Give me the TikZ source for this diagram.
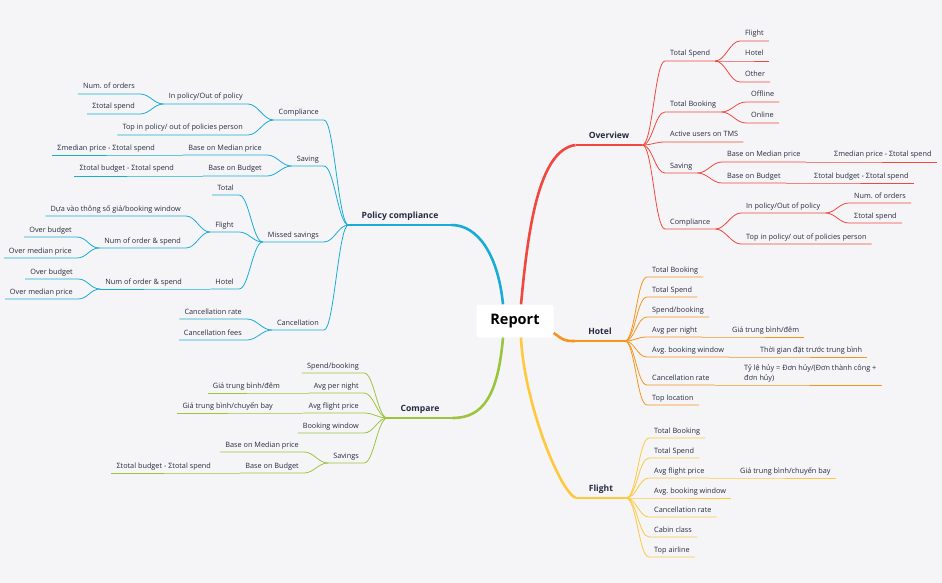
\documentclass[tikz,border=0pt]{standalone}
\usepackage{fontspec}
\setmainfont{Open Sans}
\frenchspacing

\definecolor{bg}{HTML}{F5F5F8}
\definecolor{ink}{HTML}{262A3D}
\definecolor{cRed}{HTML}{F0483E}
\definecolor{cOrange}{HTML}{F7941D}
\definecolor{cYellow}{HTML}{FFC83D}
\definecolor{cGreen}{HTML}{9BC53D}
\definecolor{cBlue}{HTML}{19ACD6}

\tikzset{
  lbl/.style={font=\fontsize{7.3}{8.6}\selectfont, text=ink, inner xsep=5pt, inner ysep=3pt, text height=5.3pt, text depth=1.8pt},
  rlbl/.style={lbl, anchor=south west},
  llbl/.style={lbl, anchor=south east},
  main/.style={font=\fontsize{8.6}{10}\selectfont\bfseries, text=ink, inner xsep=13pt, inner ysep=4pt, text height=6.5pt, text depth=2pt, anchor=south},
  report/.style={fill=white, rounded corners=3pt, minimum width=77pt, minimum height=33pt, font=\fontsize{14.5}{16}\selectfont\bfseries, text=black},
  rb/.style={to path={.. controls +(10,0) and +(-10,0) .. (\tikztotarget)}},
  lb/.style={to path={.. controls +(-10,0) and +(10,0) .. (\tikztotarget)}},
  twig/.style={line width=0.8pt},
  trunk/.style={line width=2.6pt},
  bar/.style={line width=1.4pt}
}

\begin{document}
\begin{tikzpicture}[x=1pt,y=-1pt]
\fill[bg] (0,0) rectangle (942,583);

% Center and main branches
\node[report] (report) at (515,321) {Report};
\node[main] (overview) at (609,145) {Overview};
\node[main] (hotel) at (600,341) {Hotel};
\node[main] (flight) at (601,498) {Flight};
\node[main] (policy) at (400,225) {Policy compliance};
\node[main] (compare) at (420,418) {Compare};

% Trunks
\draw[trunk,cRed] ([xshift=6pt]report.north) .. controls +(7,-75) and +(-37,5) .. (overview.south west);
\draw[trunk,cBlue] ([xshift=-12pt]report.north) .. controls +(-5,-50) and +(26,0) .. (policy.south east);
\draw[trunk,cGreen] ([xshift=-12pt]report.south) .. controls +(-5,57) and +(31,0) .. (compare.south east);
\draw[trunk,cYellow] ([xshift=6pt]report.south) .. controls +(3,63) and +(-17,-8) .. (flight.south west);
\draw[trunk,cOrange] ([yshift=-12pt]report.east) .. controls +(10,7) and +(-12,0) .. (hotel.south west);
\draw[bar,cRed] (overview.south west) -- (overview.south east);
\draw[bar,cBlue] (policy.south west) -- (policy.south east);
\draw[bar,cGreen] (compare.south west) -- (compare.south east);
\draw[bar,cYellow] (flight.south west) -- (flight.south east);
\draw[bar,cOrange] (hotel.south west) -- (hotel.south east);

% Overview
\foreach \n/\y/\t in {ots/61/Total Spend, otb/112/Total Booking, oau/142/Active users on TMS, osv/173/Saving, ocp/229/Compliance} {
  \node[rlbl] (\n) at (665,\y) {\t};
  \draw[twig,cRed] (overview.south east) to[rb] (\n.south west) -- (\n.south east);
}
\foreach \n/\y/\t in {osf/41/Flight, osh/61/Hotel, oso/82/Other} {
  \node[rlbl] (\n) at (740,\y) {\t};
  \draw[twig,cRed] (ots.south east) to[rb] (\n.south west) -- (\n.south east);
}
\foreach \n/\y/\t in {obf/102/Offline, obn/123/Online} {
  \node[rlbl] (\n) at (746,\y) {\t};
  \draw[twig,cRed] (otb.south east) to[rb] (\n.south west) -- (\n.south east);
}
\foreach \n/\y/\t in {osm/162/Base on Median price, osb/183/Base on Budget} {
  \node[rlbl] (\n) at (722,\y) {\t};
  \draw[twig,cRed] (osv.south east) to[rb] (\n.south west) -- (\n.south east);
}
\node[rlbl] (osmx) at (829,162) {Σmedian price - Σtotal spend};
\node[rlbl] (osbx) at (809,183) {Σtotal budget - Σtotal spend};
\draw[twig,cRed] (osm.south east) -- (osmx.south west) -- (osmx.south east);
\draw[twig,cRed] (osb.south east) -- (osbx.south west) -- (osbx.south east);
\foreach \n/\y/\t in {oip/213/{In policy/Out of policy}, otp/244/{Top in policy/ out of policies person}} {
  \node[rlbl] (\n) at (741,\y) {\t};
  \draw[twig,cRed] (ocp.south east) to[rb] (\n.south west) -- (\n.south east);
}
\foreach \n/\y/\t in {oin/203/Num. of orders, oit/223/Σtotal spend} {
  \node[rlbl] (\n) at (849,\y) {\t};
  \draw[twig,cRed] (oip.south east) to[rb] (\n.south west) -- (\n.south east);
}

% Hotel
\foreach \n/\y/\t in {hb/277/Total Booking, hs/297/Total Spend, hk/317/{Spend/booking}, hn/337/Avg per night, hw/357/Avg. booking window, hc/385/Cancellation rate, hl/405/Top location} {
  \node[rlbl] (\n) at (647,\y) {\t};
  \draw[twig,cOrange] (hotel.south east) to[rb] (\n.south west) -- (\n.south east);
}
\node[rlbl] (hnx) at (727,337) {Giá trung bình/đêm};
\node[rlbl] (hwx) at (755,357) {Thời gian đặt trước trung bình};
\node[font=\fontsize{7.3}{10}\selectfont, text=ink, inner xsep=5pt, inner ysep=3pt, anchor=south west, align=left] (hcx) at (739,385) {Tỷ lệ hủy = Đơn hủy/(Đơn thành công +\\đơn hủy)};
\draw[twig,cOrange] (hn.south east) -- (hnx.south west) -- (hnx.south east);
\draw[twig,cOrange] (hw.south east) -- (hwx.south west) -- (hwx.south east);
\draw[twig,cOrange] (hc.south east) -- (hcx.south west) -- (hcx.south east);

% Flight
\foreach \n/\y/\t in {fb/438/Total Booking, fs/458/Total Spend, fp/478/Avg flight price, fw/498/Avg. booking window, fc/517/Cancellation rate, fk/537/Cabin class, fa/557/Top airline} {
  \node[rlbl] (\n) at (649,\y) {\t};
  \draw[twig,cYellow] (flight.south east) to[rb] (\n.south west) -- (\n.south east);
}
\node[rlbl] (fpx) at (735,478) {Giá trung bình/chuyến bay};
\draw[twig,cYellow] (fp.south east) -- (fpx.south west) -- (fpx.south east);

% Policy compliance
\foreach \n/\y/\t in {pcp/120/Compliance, psv/166/Saving, pms/242/Missed savings, pcn/330/Cancellation} {
  \node[llbl] (\n) at (324,\y) {\t};
  \draw[twig,cBlue] (policy.south west) to[lb] (\n.south east) -- (\n.south west);
}
\foreach \n/\y/\t in {pip/104/{In policy/Out of policy}, ptp/135/{Top in policy/ out of policies person}} {
  \node[llbl] (\n) at (248,\y) {\t};
  \draw[twig,cBlue] (pcp.south west) to[lb] (\n.south east) -- (\n.south west);
}
\foreach \n/\y/\t in {pin/94/Num. of orders, pit/114/Σtotal spend} {
  \node[llbl] (\n) at (140,\y) {\t};
  \draw[twig,cBlue] (pip.south west) to[lb] (\n.south east) -- (\n.south west);
}
\foreach \n/\y/\t in {psm/155/Base on Median price, psb/176/Base on Budget} {
  \node[llbl] (\n) at (267,\y) {\t};
  \draw[twig,cBlue] (psv.south west) to[lb] (\n.south east) -- (\n.south west);
}
\node[llbl] (psmx) at (160,155) {Σmedian price - Σtotal spend};
\node[llbl] (psbx) at (179,176) {Σtotal budget - Σtotal spend};
\draw[twig,cBlue] (psm.south west) -- (psmx.south east) -- (psmx.south west);
\draw[twig,cBlue] (psb.south west) -- (psbx.south east) -- (psbx.south west);
\foreach \n/\y/\t in {pmt/195/Total, pmf/232/Flight, pmh/289/Hotel} {
  \node[llbl] (\n) at (239,\y) {\t};
  \draw[twig,cBlue] (pms.south west) to[lb] (\n.south east) -- (\n.south west);
}
\foreach \n/\y/\t in {pfd/216/{Dựa vào thông số giá/booking window}, pfn/248/Num of order \& spend} {
  \node[llbl] (\n) at (186,\y) {\t};
  \draw[twig,cBlue] (pmf.south west) to[lb] (\n.south east) -- (\n.south west);
}
\foreach \n/\y/\t in {pfb/237/Over budget, pfm/258/Over median price} {
  \node[llbl] (\n) at (77,\y) {\t};
  \draw[twig,cBlue] (pfn.south west) to[lb] (\n.south east) -- (\n.south west);
}
\node[llbl] (phn) at (187,289) {Num of order \& spend};
\draw[twig,cBlue] (pmh.south west) -- (phn.south east) -- (phn.south west);
\foreach \n/\y/\t in {phb/279/Over budget, phm/299/Over median price} {
  \node[llbl] (\n) at (78,\y) {\t};
  \draw[twig,cBlue] (phn.south west) to[lb] (\n.south east) -- (\n.south west);
}
\foreach \n/\y/\t in {pcr/319/Cancellation rate, pcf/340/Cancellation fees} {
  \node[llbl] (\n) at (247,\y) {\t};
  \draw[twig,cBlue] (pcn.south west) to[lb] (\n.south east) -- (\n.south west);
}

% Compare
\foreach \n/\y/\t in {cs/373/{Spend/booking}, cn/393/Avg per night, cp/413/Avg flight price, cw/433/Booking window, cv/463/Savings} {
  \node[llbl] (\n) at (364,\y) {\t};
  \draw[twig,cGreen] (compare.south west) to[lb] (\n.south east) -- (\n.south west);
}
\node[llbl] (cnx) at (285,393) {Giá trung bình/đêm};
\node[llbl] (cpx) at (278,413) {Giá trung bình/chuyến bay};
\draw[twig,cGreen] (cn.south west) -- (cnx.south east) -- (cnx.south west);
\draw[twig,cGreen] (cp.south west) -- (cpx.south east) -- (cpx.south west);
\foreach \n/\y/\t in {cvm/452/Base on Median price, cvb/473/Base on Budget} {
  \node[llbl] (\n) at (304,\y) {\t};
  \draw[twig,cGreen] (cv.south west) to[lb] (\n.south east) -- (\n.south west);
}
\node[llbl] (cvbx) at (216,473) {Σtotal budget - Σtotal spend};
\draw[twig,cGreen] (cvb.south west) -- (cvbx.south east) -- (cvbx.south west);

\end{tikzpicture}
\end{document}
